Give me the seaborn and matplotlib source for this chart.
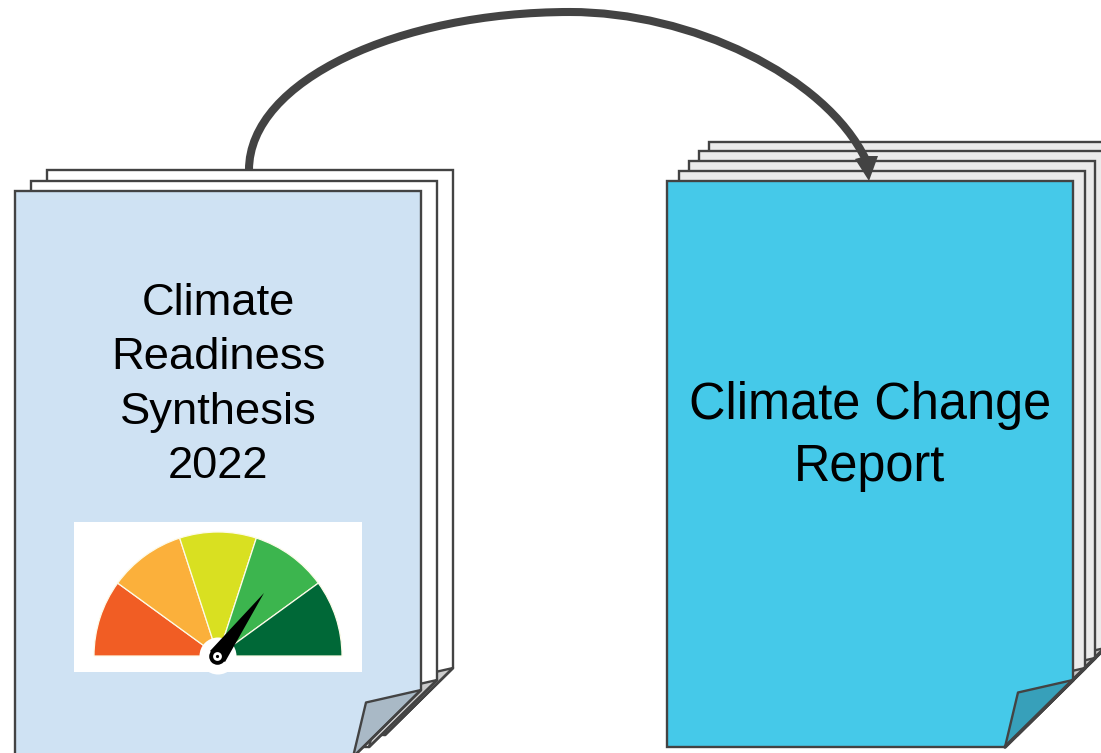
import numpy as np
import seaborn as sns
import matplotlib
matplotlib.use("Agg")
import matplotlib.pyplot as plt
from matplotlib.patches import Polygon, Wedge, Circle, Rectangle, PathPatch
from matplotlib.path import Path

sns.set_theme(style="white")
plt.rcParams['font.family'] = ['Liberation Sans', 'DejaVu Sans']

# Text
left_lines = ["Climate", "Readiness", "Synthesis", "2022"]
left_baselines = [315, 369, 424, 478]
right_lines = ["Climate Change", "Report"]
right_baselines = [419, 481]

# Page stacks: offset of each sheet from the front sheet, and how far its corner cut moves up
left_origin = (15, 191)
left_offsets = [(32, -21), (16, -10), (0, 0)]
left_cut_shift = [-22, -10, 0]
right_origin = (667, 181)
right_offsets = [(42, -39), (32, -30), (22, -20), (12, -10), (0, 0)]
right_cut_shift = [-42, -32, -22, -12, 0]

# Gauge
gauge_segments = [1, 1, 1, 1, 1]
gauge_colors = ["#f15d24", "#fbb03b", "#d9e021", "#3cb54e", "#006837"]

EDGE = "#434343"
LW = 1.7

fig = plt.figure(figsize=(11.01, 7.53), dpi=100, facecolor="white")
ax = fig.add_axes([0, 0, 1, 1])
ax.set_xlim(0, 1101)
ax.set_ylim(753, 0)
ax.set_axis_off()


def page(origin, offset, shift, face, fold, z, cut_lw=LW):
    x = origin[0] + offset[0]
    y = origin[1] + offset[1]
    y_cut = origin[1] + 499 + shift
    y_bot = y_cut + 67
    body = [(x, y), (x + 406, y), (x + 406, y_cut), (x + 338, y_bot), (x, y_bot)]
    flap = [(x + 406, y_cut), (x + 351, y_cut + 12.5), (x + 338, y_bot)]
    ax.add_patch(Polygon(body, closed=True, fc=face, ec=EDGE, lw=LW, joinstyle="miter", zorder=z))
    ax.add_patch(Polygon(flap, closed=True, fc=fold, ec=EDGE, lw=LW, joinstyle="round", zorder=z))
    ax.plot([x + 406, x + 338], [y_cut, y_bot], color=EDGE, lw=cut_lw, solid_capstyle="round", zorder=z)


for i, (off, sh) in enumerate(zip(left_offsets, left_cut_shift)):
    front = off == (0, 0)
    page(left_origin, off, sh, "#cfe2f3" if front else "#ffffff", "#a9b9c6" if front else "#cccccc", 2 + i)
for i, (off, sh) in enumerate(zip(right_offsets, right_cut_shift)):
    front = off == (0, 0)
    page(right_origin, off, sh, "#45c9e9" if front else "#ebebeb", "#37a0ba" if front else "#c8c8c8", 2 + i, cut_lw=2.6)

# Text labels
for s, b in zip(left_lines, left_baselines):
    ax.text(218.5, b, s, ha="center", va="baseline", fontsize=32.7, color="black", zorder=10)
for s, b in zip(right_lines, right_baselines):
    ax.text(870, b, s, ha="center", va="baseline", fontsize=36.4, color="black", zorder=10)

# Gauge image
ax.add_patch(Rectangle((74, 522), 288, 150, fc="white", ec="none", zorder=10))
cx, cy, R = 218, 656, 124
# The y axis is inverted, so angles run clockwise on screen from the left (180 deg)
edges = 180 + 180 * np.cumsum([0] + gauge_segments) / sum(gauge_segments)
for a0, a1, col in zip(edges[:-1], edges[1:], gauge_colors):
    ax.add_patch(Wedge((cx, cy), R, a0, a1, fc=col, ec="#fdfbe8", lw=0.9, zorder=11))
ax.add_patch(Circle((cx, cy), 18.5, fc="white", ec="none", zorder=12))
hx, hy = 217.5, 656.5
ax.add_patch(Polygon([(264, 593), (225, 662), (210, 651)], closed=True, fc="black", ec="none", zorder=13))
ax.add_patch(Circle((hx, hy), 8.3, fc="black", ec="none", zorder=13))
ax.add_patch(Circle((hx, hy), 4.4, fc="white", ec="none", zorder=14))
ax.add_patch(Circle((hx, hy), 1.6, fc="black", ec="none", zorder=15))

# Curved arrow
verts = [(249, 170), (249, 80), (400, 12), (570, 12), (690, 12), (825, 75), (866, 160)]
codes = [Path.MOVETO] + [Path.CURVE4] * 6
ax.add_patch(PathPatch(Path(verts, codes), fc="none", ec=EDGE, lw=5.8, capstyle="butt", zorder=9))
ax.add_patch(Polygon([(869, 181), (855, 159), (866, 156), (878, 156)], closed=True, fc=EDGE, ec="none", zorder=9))

fig.savefig("out.png", dpi=100, facecolor="white")
